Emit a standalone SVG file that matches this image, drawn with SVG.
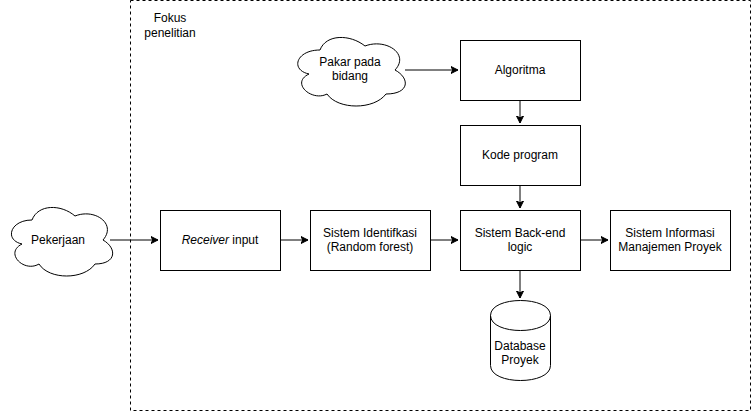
<svg xmlns="http://www.w3.org/2000/svg" width="751" height="412" viewBox="0 0 751 412">
<style>
.box{fill:#ffffff;stroke:#000000;stroke-width:1}
.t{font-family:"Liberation Sans",Arial,Helvetica,sans-serif;font-size:12px;fill:#000000;text-anchor:middle}
.e{fill:none;stroke:#000000;stroke-width:1}
</style>
<defs>
<marker id="arr" viewBox="0 0 8 8" refX="7" refY="4" markerWidth="8" markerHeight="8" markerUnits="userSpaceOnUse" orient="auto">
<path d="M0,0.5 L7,4 L0,7.5 L1.75,4 Z" fill="#000000" stroke="#000000" stroke-width="1"/>
</marker>
</defs>
<rect width="751" height="412" fill="#ffffff"/>
<g id="frame">
<rect x="130.5" y="0.5" width="620" height="410" fill="none" stroke="#000000" stroke-dasharray="3 3"/>
<text class="t" x="170" y="22">Fokus</text>
<text class="t" x="170" y="37">penelitian</text>
</g>
<g id="edges">
<path class="e" d="M110,240 L158,240" marker-end="url(#arr)"/>
<path class="e" d="M280,240 L308,240" marker-end="url(#arr)"/>
<path class="e" d="M430,240 L458,240" marker-end="url(#arr)"/>
<path class="e" d="M580,240 L608,240" marker-end="url(#arr)"/>
<path class="e" d="M405,70 L458,70" marker-end="url(#arr)"/>
<path class="e" d="M520,100 L520,123" marker-end="url(#arr)"/>
<path class="e" d="M520,185 L520,208" marker-end="url(#arr)"/>
<path class="e" d="M520,270 L520,298" marker-end="url(#arr)"/>
</g>
<g id="pekerjaan">
<path class="box" d="M32,220 C10,220 4,240 22,244 C4,253 24,273 39,264 C49,280 84,280 95,264 C117,264 117,248 103,240 C117,224 95,208 75,216 C61,204 38,204 32,220 Z"/>
<text class="t" x="58" y="244">Pekerjaan</text>
</g>
<g id="pakar">
<path class="box" d="M320,50 C296,50 290,70 309,74 C290,83 312,102 327,94 C338,110 374,110 386,94 C410,94 410,78 395,70 C410,54 386,38 365,46 C350,34 326,34 320,50 Z"/>
<text class="t" x="350" y="66">Pakar pada</text>
<text class="t" x="350" y="80">bidang</text>
</g>
<g id="algoritma">
<rect class="box" x="460.5" y="40.5" width="120" height="60"/>
<text class="t" x="520" y="74">Algoritma</text>
</g>
<g id="kode">
<rect class="box" x="460.5" y="125.5" width="120" height="60"/>
<text class="t" x="520" y="159">Kode program</text>
</g>
<g id="receiver">
<rect class="box" x="160.5" y="210.5" width="120" height="60"/>
<text class="t" x="220" y="244"><tspan font-style="italic">Receiver</tspan> input</text>
</g>
<g id="identifikasi">
<rect class="box" x="310.5" y="210.5" width="120" height="60"/>
<text class="t" x="370" y="237">Sistem Identifkasi</text>
<text class="t" x="370" y="251">(Random forest)</text>
</g>
<g id="backend">
<rect class="box" x="460.5" y="210.5" width="120" height="60"/>
<text class="t" x="520" y="237">Sistem Back-end</text>
<text class="t" x="520" y="251">logic</text>
</g>
<g id="simp">
<rect class="box" x="610.5" y="210.5" width="120" height="60"/>
<text class="t" x="670" y="237">Sistem Informasi</text>
<text class="t" x="670" y="251">Manajemen Proyek</text>
</g>
<g id="database">
<path class="box" d="M490.5,315.5 C490.5,295.5 550.5,295.5 550.5,315.5 L550.5,365.5 C550.5,385.5 490.5,385.5 490.5,365.5 Z"/>
<path class="e" d="M490.5,315.5 C490.5,335.5 550.5,335.5 550.5,315.5"/>
<text class="t" x="520" y="350">Database</text>
<text class="t" x="520" y="364">Proyek</text>
</g>
</svg>
